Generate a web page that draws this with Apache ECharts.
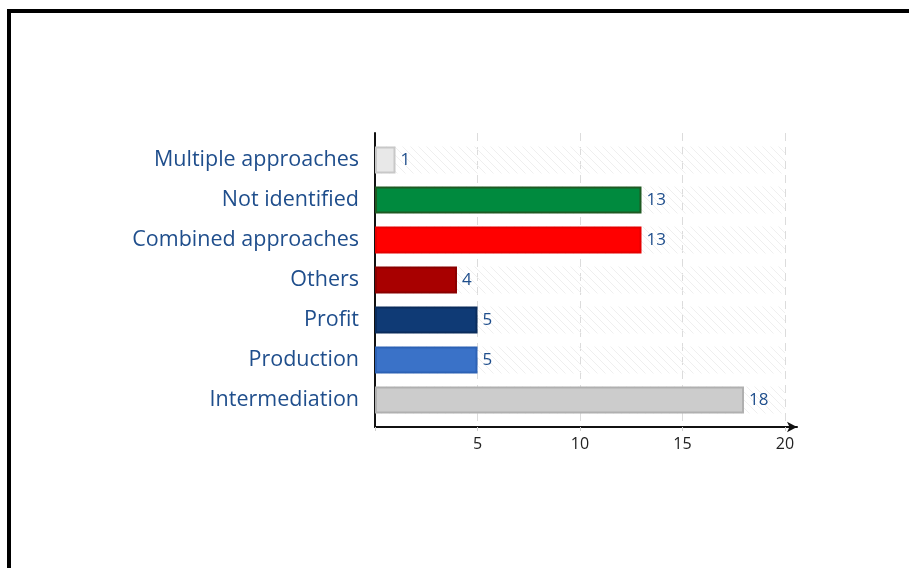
<!DOCTYPE html>
<html>
<head>
<meta charset="utf-8">
<script src="https://cdn.jsdelivr.net/npm/echarts@6/dist/echarts.min.js"></script>
<style>
  html, body { margin: 0; padding: 0; background: #fff; }
  #frame { position: absolute; left: 7px; top: 9px; width: 960px; height: 620px;
           border-left: 4px solid #000; border-top: 4px solid #000; }
  #chart { position: absolute; left: 0; top: 0; width: 909px; height: 568px; }
</style>
</head>
<body>
<div id="frame"></div>
<div id="chart"></div>
<script>
// Categories listed bottom-to-top (category axis order)
const categories = ['Intermediation', 'Production', 'Profit', 'Others',
                    'Combined approaches', 'Not identified', 'Multiple approaches'];
const counts = [18, 5, 5, 4, 13, 13, 1];
const fillColors = ['#cccccc', '#3a72c8', '#0f3a75', '#a80000', '#ff0000', '#008a3e', '#e8e8e8'];
const edgeColors = ['#b0b0b0', '#2d62b5', '#0a2c5c', '#8a0000', '#e60000', '#1e5a22', '#c8c8c8'];
const xTicks = [0, 5, 10, 15, 20];

// faint diagonal hatch used for the bar track background
function hatchPattern() {
  const c = document.createElement('canvas');
  c.width = 8; c.height = 8;
  const g = c.getContext('2d');
  g.strokeStyle = '#efefef';
  g.lineWidth = 1;
  g.beginPath();
  g.moveTo(-2, -2); g.lineTo(10, 10);
  g.moveTo(-2, 6); g.lineTo(2, 10);
  g.moveTo(6, -2); g.lineTo(10, 2);
  g.stroke();
  return c;
}

const chart = echarts.init(document.getElementById('chart'), null, { renderer: 'canvas' });
const labelBlue = '#1f4e8c';

chart.setOption({
  animation: false,
  grid: [
    { left: 375, right: 112, top: 133, bottom: 141 },   // axis lines (with arrow)
    { left: 375, width: 410, top: 133, bottom: 141 },   // ticks, labels, dashed grid
    { left: 375, width: 410, top: 140, height: 280 }    // bars
  ],
  xAxis: [
    { gridIndex: 0, type: 'value', min: 0, max: 1,
      axisLine: { show: true, lineStyle: { color: '#111', width: 2 },
                  symbol: ['none', 'arrow'], symbolSize: [8, 10] },
      axisTick: { show: false }, axisLabel: { show: false }, splitLine: { show: false } },
    { gridIndex: 1, type: 'value', min: xTicks[0], max: xTicks[xTicks.length - 1], interval: 5,
      axisLine: { show: false },
      axisTick: { show: true, length: 4, lineStyle: { color: '#cfcfcf' } },
      axisLabel: { color: '#222', fontSize: 16, fontFamily: 'Open Sans', margin: 9,
                   formatter: v => (v === 0 ? '' : String(v)) },
      splitLine: { show: true, lineStyle: { color: '#dcdcdc', type: [8, 6], width: 1 } } },
    { gridIndex: 2, type: 'value', min: 0, max: 20, show: false }
  ],
  yAxis: [
    { gridIndex: 0, type: 'value', min: 0, max: 1,
      axisLine: { show: true, lineStyle: { color: '#111', width: 2 } },
      axisTick: { show: false }, axisLabel: { show: false }, splitLine: { show: false } },
    { gridIndex: 1, type: 'value', min: 0, max: 1, show: false },
    { gridIndex: 2, type: 'category', data: categories,
      axisLine: { show: false }, axisTick: { show: false },
      axisLabel: { color: labelBlue, fontSize: 21.5, fontFamily: 'Open Sans', margin: 16,
                   padding: [4, 0, 0, 0] } }
  ],
  series: [{
    type: 'bar',
    xAxisIndex: 2, yAxisIndex: 2,
    barWidth: 27,
    data: counts.map((v, i) => ({
      value: v,
      itemStyle: { color: fillColors[i], borderColor: edgeColors[i], borderWidth: 2 }
    })),
    showBackground: true,
    backgroundStyle: { color: { image: hatchPattern(), repeat: 'repeat' } },
    label: { show: true, position: 'right', distance: 5, color: labelBlue,
             fontSize: 17, fontFamily: 'Open Sans', padding: [2, 0, 0, 0] }
  }]
});
</script>
</body>
</html>
